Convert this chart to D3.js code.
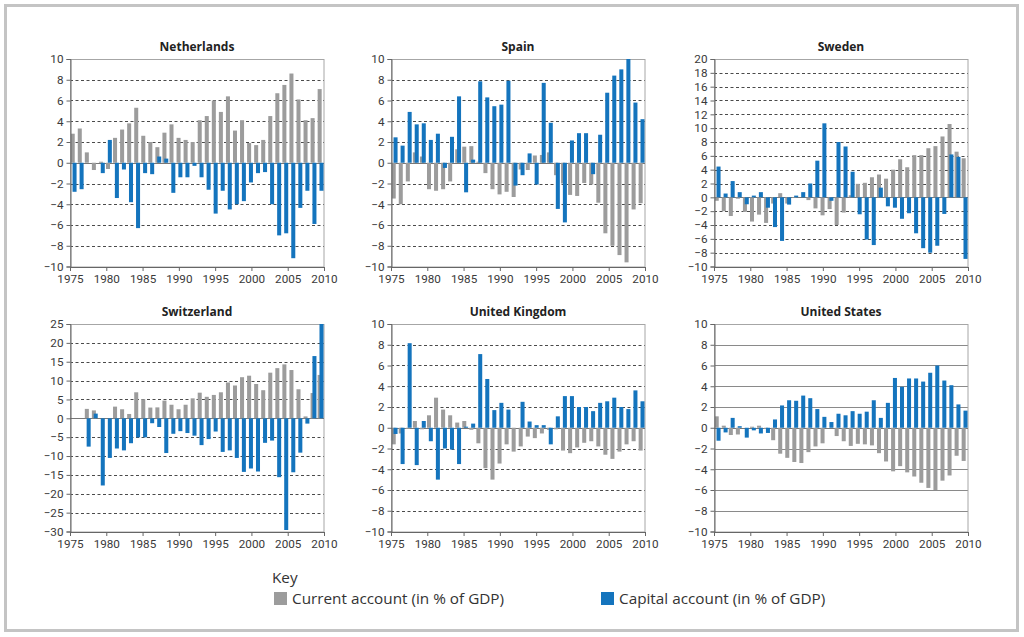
<!DOCTYPE html>
<html>
<head>
<meta charset="utf-8">
<script src="https://cdn.jsdelivr.net/npm/d3@7"></script>
<style>
  html, body { margin: 0; padding: 0; background: #fff; }
  svg { display: block; }
  text { font-family: "Open Sans", "Noto Sans", sans-serif; }
</style>
</head>
<body>
<svg id="chart" width="1024" height="637"></svg>
<script>
// ---------- DATA ----------
const years = d3.range(1975, 2011);
const xTickYears = [1975, 1980, 1985, 1990, 1995, 2000, 2005, 2010];

const nlCurrent = [2.8, 3.3, 1.0, -0.7, 0.1, -0.6, 2.4, 3.2, 3.8, 5.3, 2.6, 2.0, 1.5, 2.9, 3.7, 2.4, 2.2, 2.0, 4.1, 4.5, 6.0, 4.9, 6.4, 3.1, 4.1, 1.9, 1.7, 2.2, 4.5, 6.7, 7.5, 8.6, 6.1, 4.1, 4.3, 7.1];
const nlCapital = [-2.8, -2.55, 0, 0, -1.0, 2.2, -3.4, -0.65, -3.8, -6.3, -1.0, -1.1, 0.6, 0.4, -2.9, -1.4, -1.4, -0.3, -1.4, -2.6, -4.9, -2.7, -4.5, -4.0, -3.7, -1.9, -1.0, -0.9, -4.0, -7.0, -6.8, -9.2, -4.35, -2.7, -5.9, -2.7];

const esCurrent = [-3.45, -4.0, -1.8, 1.0, 0.6, -2.55, -2.7, -2.55, -1.8, 1.3, 1.55, 1.6, 0.1, -1.0, -2.55, -3.05, -2.8, -3.3, -0.65, -0.7, 0.7, 0.75, 1.0, -1.2, -2.0, -3.1, -3.2, -1.95, -2.1, -3.85, -6.8, -8.0, -8.9, -9.6, -4.5, -3.9];
const esCapital = [2.45, 1.65, 4.9, 3.7, 3.8, 2.2, 2.8, -0.5, 2.5, 6.4, -2.85, 0.3, 7.85, 6.3, 5.45, 5.6, 7.9, -2.2, -1.2, 0.9, -2.1, 7.7, 3.85, -4.45, -5.75, 2.15, 2.85, 2.85, -1.1, 2.7, 6.75, 8.4, 9.0, 10.0, 5.8, 4.2];

const seCurrent = [-0.5, -2.0, -2.7, -0.2, -2.1, -3.5, -2.5, -3.7, -0.9, 0.6, -0.9, -0.1, 0.0, -0.4, -1.6, -2.6, -1.7, -4.0, -2.2, 0.3, 1.95, 2.1, 2.9, 3.3, 2.7, 4.0, 5.5, 4.35, 6.1, 6.1, 7.1, 7.4, 8.8, 10.6, 6.6, 5.65];
const seCapital = [4.45, 0.55, 2.35, 0.75, -1.0, 0.25, 0.75, -1.5, -4.3, -6.3, -1.05, 0.25, 0.75, 2.0, 5.3, 10.7, -0.5, 8.0, 7.35, 3.7, -2.45, -6.1, -6.9, 1.4, -1.3, -1.5, -3.1, -2.3, -5.2, -7.35, -8.0, -7.0, -2.4, 6.2, 5.85, -8.9];

const chCurrent = [null, null, 2.5, 2.1, 0, 0, 3.1, 2.4, 1.15, 6.9, 5.05, 2.85, 2.9, 4.7, 3.6, 2.4, 3.6, 5.3, 6.8, 5.7, 6.2, 6.9, 9.5, 8.7, 10.9, 11.3, 9.1, 7.45, 12.1, 13.3, 14.3, 12.8, 7.7, 0.5, 6.7, 11.5];
const chCapital = [null, null, -7.5, 1.25, -17.8, -10.5, -8.0, -8.5, -6.6, -5.05, -5.05, -1.3, -2.3, -9.2, -4.1, -3.4, -3.9, -4.6, -7.1, -5.5, -3.5, -8.9, -8.5, -10.5, -14.2, -13.3, -14.1, -6.5, -5.9, -15.6, -29.6, -14.3, -9.1, -1.4, 16.5, 25.0];

const ukCurrent = [-1.6, -0.55, -0.1, 0.65, -0.15, 1.2, 2.9, 1.75, 1.2, 0.5, 0.65, -0.2, -1.5, -3.9, -5.0, -3.45, -1.6, -2.3, -1.8, -0.85, -1.0, -0.55, -0.2, -0.15, -2.2, -2.45, -1.9, -1.45, -1.3, -1.8, -2.6, -3.0, -2.3, -1.6, -1.3, -2.2];
const ukCapital = [-0.6, -3.5, 8.15, -3.6, 0.65, -1.3, -5.0, -2.0, -2.1, -3.5, 0.1, 0.4, 7.1, 4.7, 1.7, 2.4, 1.75, 0, 2.5, 0.6, 0.25, 0.25, -1.6, 1.1, 3.05, 3.05, 2.0, 2.0, 1.6, 2.4, 2.55, 2.9, 2.0, 1.8, 3.6, 2.55];

const usCurrent = [1.1, 0.2, -0.7, -0.65, 0.0, 0.1, 0.2, -0.1, -1.2, -2.5, -2.9, -3.3, -3.4, -2.35, -1.8, -1.5, 0.0, -0.8, -1.3, -1.75, -1.55, -1.6, -1.7, -2.45, -3.25, -4.2, -3.7, -4.3, -4.7, -5.3, -5.8, -6.0, -5.1, -4.6, -2.7, -3.2];
const usCapital = [-1.25, -0.45, 0.95, 0.15, -0.95, -0.25, -0.55, -0.5, 0.8, 2.15, 2.65, 2.6, 3.1, 2.85, 1.8, 1.05, 0.55, 1.35, 1.2, 1.6, 1.35, 1.55, 2.65, 0.95, 2.4, 4.8, 3.95, 4.75, 4.75, 4.45, 5.3, 6.0, 4.55, 4.1, 2.25, 1.65];

const ticks10 = d3.range(-10, 11, 2);
const ticksSweden = d3.range(-10, 21, 2);
const ticksSwitzerland = d3.range(-30, 26, 5);

const countries = ["Netherlands", "Spain", "Sweden", "Switzerland", "United Kingdom", "United States"];
const seriesNames = ["Current account (in % of GDP)", "Capital account (in % of GDP)"];
const keyTitle = "Key";

// ---------- LAYOUT ----------
const colGray = "#9c9c9c";
const colBlue = "#1474bd";
const cols = [70, 391, 714];
const rows = [59, 324];
const pw = 254, ph = 207.5;
const tickFont = "Roboto, 'Liberation Sans', sans-serif";
const tickSize = "11.7px";

const panels = [
  {name: countries[0], cur: nlCurrent, cap: nlCapital, ticks: ticks10, col: 0, row: 0, dash: true},
  {name: countries[1], cur: esCurrent, cap: esCapital, ticks: ticks10, col: 1, row: 0, dash: true},
  {name: countries[2], cur: seCurrent, cap: seCapital, ticks: ticksSweden, col: 2, row: 0, dash: true},
  {name: countries[3], cur: chCurrent, cap: chCapital, ticks: ticksSwitzerland, col: 0, row: 1, dash: true},
  {name: countries[4], cur: ukCurrent, cap: ukCapital, ticks: ticks10, col: 1, row: 1, dash: true},
  {name: countries[5], cur: usCurrent, cap: usCapital, ticks: ticks10, col: 2, row: 1, dash: false}
];

const svg = d3.select("#chart");

// outer frame
svg.append("rect").attr("x", 5.5).attr("y", 5.5).attr("width", 1012).attr("height", 625)
  .attr("fill", "none").attr("stroke", "#c4c4c4").attr("stroke-width", 3);

panels.forEach(p => {
  const left = cols[p.col], top = rows[p.row];
  const g = svg.append("g").attr("transform", `translate(${left},${top})`);

  const y = d3.scaleLinear().domain(d3.extent(p.ticks)).range([ph, 0]);
  const xBand = d3.scaleBand().domain(years).range([0, pw]).padding(0);
  const xLin = d3.scaleLinear().domain([1975, 2010]).range([0, pw]);
  const bw = xBand.bandwidth();

  // gridlines
  g.selectAll("line.grid").data(p.ticks.filter(t => t !== 0 && t !== y.domain()[0] && t !== y.domain()[1]))
    .join("line").attr("class", "grid")
    .attr("x1", 0).attr("x2", pw)
    .attr("y1", d => Math.round(y(d)) + 0.5).attr("y2", d => Math.round(y(d)) + 0.5)
    .attr("stroke", p.dash ? "#4a4a4a" : "#8a8a8a")
    .attr("stroke-width", 1)
    .attr("stroke-dasharray", p.dash ? "3,2.5" : null);

  // frame (top & right)
  g.append("rect").attr("x", 0.5).attr("y", 0.5).attr("width", pw - 0.5).attr("height", ph)
    .attr("fill", "none").attr("stroke", "#a6a6a6").attr("stroke-width", 1);

  // zero line
  g.append("line").attr("x1", 0).attr("x2", pw)
    .attr("y1", Math.round(y(0)) + 0.5).attr("y2", Math.round(y(0)) + 0.5)
    .attr("stroke", "#777").attr("stroke-width", 1);

  const val = v => Math.max(y.domain()[0], Math.min(y.domain()[1], v));

  // current account (gray, behind)
  g.selectAll("rect.cur").data(years.map((yr, i) => ({yr, v: p.cur[i]})).filter(d => d.v !== null))
    .join("rect").attr("class", "cur")
    .attr("x", d => xBand(d.yr) + bw * 0.1)
    .attr("width", bw * 0.57)
    .attr("y", d => y(Math.max(0, val(d.v))))
    .attr("height", d => Math.abs(y(val(d.v)) - y(0)))
    .attr("fill", colGray);

  // capital account (blue, front)
  g.selectAll("rect.cap").data(years.map((yr, i) => ({yr, v: p.cap[i]})).filter(d => d.v !== null))
    .join("rect").attr("class", "cap")
    .attr("x", d => xBand(d.yr) + bw * 0.36)
    .attr("width", bw * 0.57)
    .attr("y", d => y(Math.max(0, val(d.v))))
    .attr("height", d => Math.abs(y(val(d.v)) - y(0)))
    .attr("fill", colBlue);

  // y axis
  const yAxis = d3.axisLeft(y).tickValues(p.ticks).tickSize(4).tickPadding(3).tickFormat(d3.format("d"));
  const ya = g.append("g").attr("transform", "translate(0.5,0)").call(yAxis);
  ya.select(".domain").attr("stroke", "#666");
  ya.selectAll(".tick line").attr("stroke", "#666");
  ya.selectAll(".tick text").attr("fill", "#3a3a3a").style("font-size", tickSize)
    .style("font-family", tickFont);

  // x axis
  const xAxis = d3.axisBottom(xLin).tickValues(xTickYears).tickSize(4).tickPadding(4).tickFormat(d3.format("d"));
  const xa = g.append("g").attr("transform", `translate(0,${ph + 0.5})`).call(xAxis);
  xa.select(".domain").attr("stroke", "#666");
  xa.selectAll(".tick line").attr("stroke", "#666");
  xa.selectAll(".tick text").attr("fill", "#3a3a3a").style("font-size", tickSize)
    .style("font-family", tickFont);

  // title
  g.append("text").attr("x", pw / 2).attr("y", -8)
    .attr("text-anchor", "middle").attr("fill", "#222")
    .style("font-size", "12px").style("font-weight", "700")
    .text(p.name);
});

// legend
svg.append("text").attr("x", 272).attr("y", 583).attr("fill", "#333")
  .style("font-size", "15.3px").text(keyTitle);
const legendItems = [
  {label: seriesNames[0], color: colGray, x: 274},
  {label: seriesNames[1], color: colBlue, x: 601}
];
legendItems.forEach(it => {
  svg.append("rect").attr("x", it.x).attr("y", 592).attr("width", 13).attr("height", 13).attr("fill", it.color);
  svg.append("text").attr("x", it.x + 18).attr("y", 604).attr("fill", "#333")
    .style("font-size", "15.3px").text(it.label);
});
</script>
</body>
</html>
